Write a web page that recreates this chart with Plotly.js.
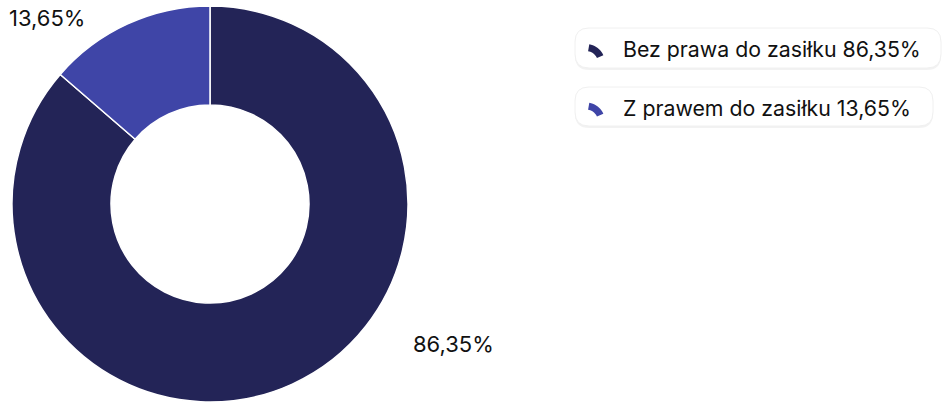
<!DOCTYPE html>
<html>
<head>
<meta charset="utf-8">
<script src="https://cdn.plot.ly/plotly-3.0.1.min.js"></script>
<style>html,body{margin:0;padding:0;background:#fff;}#chart{width:942px;height:403px;}</style>
</head>
<body>
<div id="chart"></div>
<script>
const categories = ["Bez prawa do zasiłku", "Z prawem do zasiłku"];
const values = [86.35, 13.65];
const colors = ["#232457", "#3f45a7"];

const W = 942, H = 403;
const fmt = v => v.toFixed(2).replace(".", ",") + "%";
const px = x => x / W;
const py = y => 1 - y / H;

const cx = 210, cy = 204, R = 198;

const trace = {
  type: "pie",
  labels: categories,
  values: values,
  sort: false,
  direction: "clockwise",
  rotation: 0,
  hole: 0.5,
  marker: { colors: colors, line: { color: "#ffffff", width: 1.5 } },
  textinfo: "none",
  hoverinfo: "label+percent",
  domain: { x: [px(cx - R), px(cx + R)], y: [py(cy + R), py(cy - R)] },
  showlegend: false
};

// value labels placed outside the ring
const labelPos = [[453, 344], [47, 18]];
const annotations = categories.map((c, i) => ({
  xref: "paper", yref: "paper",
  x: px(labelPos[i][0]), y: py(labelPos[i][1]),
  xanchor: "center", yanchor: "middle",
  text: fmt(values[i]), showarrow: false,
  font: { family: "Inter, 'Open Sans', sans-serif", size: 22, color: "#111111" }
}));

// custom legend
const shapes = [];
const boxes = [[28, 68, 941], [87, 126, 933]];
function roundRect(x0, y0, x1, y1, r) {
  const p = (x, y) => px(x) + "," + py(y);
  return "M" + p(x0 + r, y0) + " L" + p(x1 - r, y0) +
    " Q" + p(x1, y0) + " " + p(x1, y0 + r) +
    " L" + p(x1, y1 - r) + " Q" + p(x1, y1) + " " + p(x1 - r, y1) +
    " L" + p(x0 + r, y1) + " Q" + p(x0, y1) + " " + p(x0, y1 - r) +
    " L" + p(x0, y0 + r) + " Q" + p(x0, y0) + " " + p(x0 + r, y0) + " Z";
}
function arcIcon(ccx, ccy, ro, ri, a0, a1) {
  const pts = [];
  const n = 10;
  for (let k = 0; k <= n; k++) {
    const a = (a0 + (a1 - a0) * k / n) * Math.PI / 180;
    pts.push([ccx + ro * Math.cos(a), ccy - ro * Math.sin(a)]);
  }
  for (let k = n; k >= 0; k--) {
    const a = (a0 + (a1 - a0) * k / n) * Math.PI / 180;
    pts.push([ccx + ri * Math.cos(a), ccy - ri * Math.sin(a)]);
  }
  return "M" + pts.map(q => px(q[0]) + "," + py(q[1])).join(" L") + " Z";
}
categories.forEach((c, i) => {
  const [y0, y1, x1] = boxes[i];
  shapes.push({ type: "path", xref: "paper", yref: "paper",
    path: roundRect(575, y0 + 2, x1, y1 + 2, 14),
    fillcolor: "rgba(0,0,0,0.05)", line: { width: 0 } });
  shapes.push({ type: "path", xref: "paper", yref: "paper",
    path: roundRect(575, y0, x1, y1, 14),
    fillcolor: "#ffffff", line: { color: "#f0f0f0", width: 1 } });
  const ym = (y0 + y1) / 2;
  shapes.push({ type: "path", xref: "paper", yref: "paper",
    path: arcIcon(586, ym + 15, 19, 12, 80, 24),
    fillcolor: colors[i], line: { width: 0 } });
  annotations.push({
    xref: "paper", yref: "paper",
    x: px(621), y: py(ym + 1), xanchor: "left", yanchor: "middle",
    text: c + " " + fmt(values[i]), showarrow: false,
    font: { family: "Inter, 'Open Sans', sans-serif", size: 21.3, color: "#111111" }
  });
});

const layout = {
  width: W, height: H,
  margin: { l: 0, r: 0, t: 0, b: 0 },
  paper_bgcolor: "#ffffff",
  plot_bgcolor: "#ffffff",
  showlegend: false,
  annotations: annotations,
  shapes: shapes
};

Plotly.newPlot("chart", [trace], layout, { displayModeBar: false, staticPlot: true });
</script>
</body>
</html>
